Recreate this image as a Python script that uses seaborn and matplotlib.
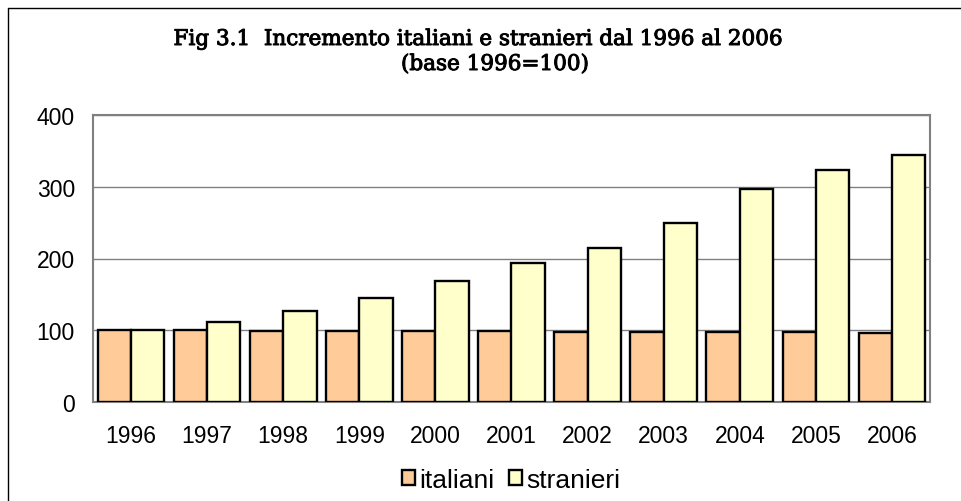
import seaborn as sns
import matplotlib.pyplot as plt
import matplotlib.patheffects as pe
import pandas as pd
from matplotlib.lines import Line2D

sns.set_theme(style="white")
plt.rcParams['font.family'] = ['Liberation Sans', 'DejaVu Sans']

anni = ["1996", "1997", "1998", "1999", "2000", "2001", "2002", "2003", "2004", "2005", "2006"]
italiani = [100, 100, 99, 99, 99, 99, 98, 98, 97, 97, 96]
stranieri = [100, 112, 127, 145, 169, 194, 215, 250, 297, 324, 344]
serie = ["italiani", "stranieri"]
colori = ["#FFCC99", "#FFFFCC"]

df = pd.DataFrame({"anno": anni * 2,
                   "valore": italiani + stranieri,
                   "serie": [serie[0]] * len(anni) + [serie[1]] * len(anni)})

fig = plt.figure(figsize=(9.62, 5.02), dpi=100)
ax = fig.add_axes([93 / 962, 99 / 502, 837 / 962, 287 / 502])

sns.barplot(data=df, x="anno", y="valore", hue="serie", palette=colori, saturation=1,
            width=0.875, edgecolor="black", linewidth=1.7, ax=ax, zorder=3)

ax.set_ylim(0, 400)
ax.set_yticks([0, 100, 200, 300, 400])
ax.yaxis.grid(True, color="#808080", linewidth=1)
ax.set_axisbelow(True)
ax.set_xlabel("")
ax.set_ylabel("")
for s in ax.spines.values():
    s.set_color("#808080")
    s.set_linewidth(1.5)
ax.tick_params(axis="y", labelsize=16.5, pad=13, length=0, labelcolor="black")
ax.tick_params(axis="x", labelsize=16.5, pad=16, length=0, labelcolor="black")

leg = ax.legend(loc="center", bbox_to_anchor=(511 / 962, 1 - 481 / 502), bbox_transform=fig.transFigure,
                ncol=2, frameon=False, fontsize=19, handlelength=0.5, handleheight=0.5,
                handletextpad=0.15, columnspacing=0.55, borderaxespad=0, borderpad=0)
for t in leg.get_texts():
    t.set_color("black")

contorno = [pe.withStroke(linewidth=0.7, foreground="black")]
fig.text(478 / 962, 1 - 46 / 502, "Fig 3.1  Incremento italiani e stranieri dal 1996 al 2006",
         ha="center", va="baseline", fontsize=15.5, family="DejaVu Serif",
         color="black", path_effects=contorno)
fig.text(495 / 962, 1 - 71 / 502, "(base 1996=100)",
         ha="center", va="baseline", fontsize=15.5, family="DejaVu Serif",
         color="black", path_effects=contorno)

# cornice del grafico (solo bordo sinistro e superiore visibili)
fig.add_artist(Line2D([8 / 962, 8 / 962], [0, 1 - 9 / 502], color="black", linewidth=1, transform=fig.transFigure))
fig.add_artist(Line2D([8 / 962, 1], [1 - 9 / 502, 1 - 9 / 502], color="black", linewidth=1, transform=fig.transFigure))

fig.savefig("out.png", dpi=100, facecolor="white")
